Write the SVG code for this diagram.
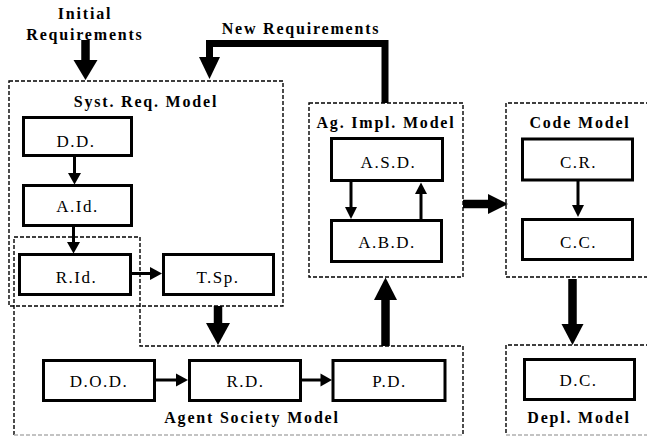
<svg xmlns="http://www.w3.org/2000/svg" width="647" height="436" viewBox="0 0 647 436" font-family="'Liberation Serif', 'Times New Roman', 'DejaVu Serif', serif">
<style>
.cont{fill:none;stroke:#000;stroke-width:1.4;stroke-dasharray:4 2}
.bot{fill:none;stroke:#b0b0b0;stroke-width:1.4;stroke-dasharray:4 2}
.box{fill:#fff;stroke:#000;stroke-width:3}
.lbl{font-family:'Liberation Serif','Times New Roman','DejaVu Serif',serif;font-size:17px;letter-spacing:1.5px;text-anchor:middle;fill:#000}
.ttl{font-family:'Liberation Serif','Times New Roman','DejaVu Serif',serif;font-size:16px;font-weight:bold;letter-spacing:1.8px;text-anchor:middle;fill:#000}
.thin{stroke:#000;stroke-width:3;fill:none}
.thick{stroke:#000;stroke-width:8.5;fill:none}
.head{fill:#000;stroke:none}
</style>
<rect width="647" height="436" fill="#fff"/>
<g id="syst-req-model">
<rect class="cont" x="9" y="81" width="274" height="225"/>
<text class="ttl" x="146" y="107">Syst. Req. Model</text>
</g>
<g id="agent-society-model">
<path class="cont" d="M14,435 V237 H140 V346 H463 V435"/>
<path class="bot" d="M14,435 H463"/>
<text class="ttl" x="252" y="423">Agent Society Model</text>
</g>
<g id="ag-impl-model">
<rect class="cont" x="309" y="103" width="154" height="174"/>
<text class="ttl" x="386" y="128">Ag. Impl. Model</text>
</g>
<g id="code-model">
<path class="cont" d="M650,103 H506 V277 H650"/>
<text class="ttl" x="580" y="128">Code Model</text>
</g>
<g id="depl-model">
<path class="cont" d="M650,345 H506 V435"/>
<path class="bot" d="M506,435 H650"/>
<text class="ttl" x="579" y="423">Depl. Model</text>
</g>
<g id="initial-requirements">
<text class="ttl" x="85" y="19">Initial</text>
<text class="ttl" x="85" y="40">Requirements</text>
</g>
<g id="new-requirements">
<text class="ttl" x="301" y="34">New Requirements</text>
</g>
<g id="dd"><rect class="box" x="23.5" y="117.5" width="108" height="38"/><text class="lbl" x="76" y="147">D.D.</text></g>
<g id="aid"><rect class="box" x="23.5" y="185.5" width="108" height="40"/><text class="lbl" x="77.5" y="212">A.Id.</text></g>
<g id="rid"><rect class="box" x="19.5" y="254.5" width="111" height="40"/><text class="lbl" x="76.5" y="283">R.Id.</text></g>
<g id="tsp"><rect class="box" x="163.5" y="254.5" width="110" height="40"/><text class="lbl" x="218" y="283">T.Sp.</text></g>
<g id="dod"><rect class="box" x="43.5" y="360.5" width="111" height="40"/><text class="lbl" x="99" y="387">D.O.D.</text></g>
<g id="rd"><rect class="box" x="189.5" y="360.5" width="111" height="40"/><text class="lbl" x="245.5" y="387">R.D.</text></g>
<g id="pd"><rect class="box" x="333" y="360.5" width="112" height="40"/><text class="lbl" x="389.5" y="387">P.D.</text></g>
<g id="asd"><rect class="box" x="331.5" y="138.5" width="111" height="42"/><text class="lbl" x="388.5" y="168">A.S.D.</text></g>
<g id="abd"><rect class="box" x="331.5" y="220.5" width="110" height="41"/><text class="lbl" x="387" y="248">A.B.D.</text></g>
<g id="cr"><rect class="box" x="522.5" y="139" width="110" height="41"/><text class="lbl" x="578.5" y="168">C.R.</text></g>
<g id="cc"><rect class="box" x="522.5" y="219.5" width="110" height="40"/><text class="lbl" x="578.5" y="248">C.C.</text></g>
<g id="dc"><rect class="box" x="524.5" y="359.5" width="110" height="40"/><text class="lbl" x="578.5" y="386">D.C.</text></g>
<g id="connectors">
<line class="thick" x1="85.5" y1="40" x2="85.5" y2="62"/>
<polygon class="head" points="73.5,60 97.5,60 85.5,80"/>
<path class="thick" style="stroke-width:7" d="M385,103 V43.5 H209.5 V60"/>
<polygon class="head" points="199,57 220,57 209.5,79"/>
<line class="thin" x1="74.5" y1="157" x2="74.5" y2="174"/>
<polygon class="head" points="68,173 81,173 74.5,184.5"/>
<line class="thin" x1="73.5" y1="227" x2="73.5" y2="243"/>
<polygon class="head" points="67,242 80,242 73.5,253.5"/>
<line class="thin" x1="132" y1="273.5" x2="152" y2="273.5"/>
<polygon class="head" points="150,267 150,280 162,273.5"/>
<line class="thick" x1="218" y1="306" x2="218" y2="324"/>
<polygon class="head" points="206,323 230,323 218,345"/>
<line class="thin" x1="156" y1="380" x2="178" y2="380"/>
<polygon class="head" points="176,373.5 176,386.5 188,380"/>
<line class="thin" x1="302" y1="380" x2="322" y2="380"/>
<polygon class="head" points="320.5,373.5 320.5,386.5 332,380"/>
<line class="thick" x1="385.5" y1="346" x2="385.5" y2="298"/>
<polygon class="head" points="374,300 397,300 385.5,277.5"/>
<line class="thin" x1="351" y1="182" x2="351" y2="208"/>
<polygon class="head" points="345,207 357,207 351,219"/>
<line class="thin" x1="421" y1="219" x2="421" y2="193"/>
<polygon class="head" points="415,194 427,194 421,182.5"/>
<line class="thick" x1="463" y1="204" x2="490" y2="204"/>
<polygon class="head" points="488,194 488,214 508,204"/>
<line class="thin" x1="578" y1="181" x2="578" y2="206"/>
<polygon class="head" points="572,205 584,205 578,217"/>
<line class="thick" x1="572.5" y1="279" x2="572.5" y2="326"/>
<polygon class="head" points="561.5,324 583.5,324 572.5,345"/>
</g>
</svg>
